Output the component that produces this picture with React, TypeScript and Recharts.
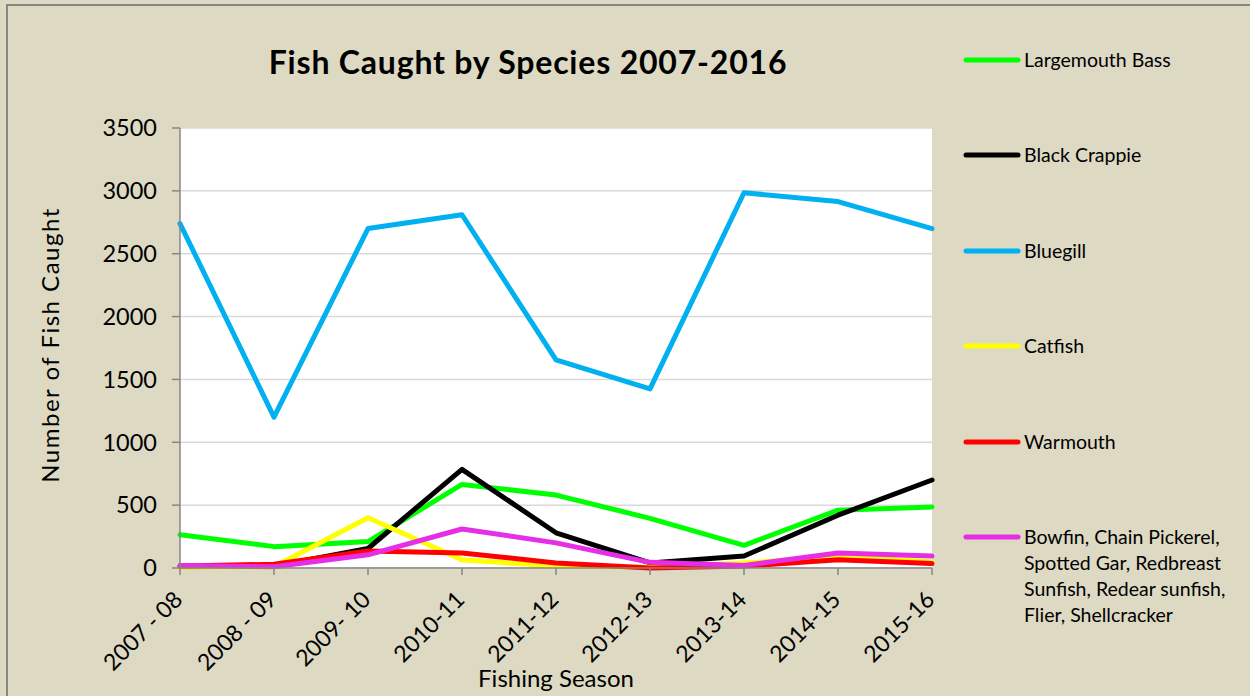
import React from 'react';
import { LineChart, Line, XAxis, YAxis, CartesianGrid, Label } from 'recharts';

const seasons = ['2007 - 08', '2008 - 09', '2009- 10', '2010-11', '2011-12', '2012-13', '2013-14', '2014-15', '2015-16'];

const largemouthBass = [265, 170, 210, 665, 580, 395, 180, 460, 485];
const blackCrappie = [10, 15, 155, 785, 280, 40, 95, 420, 700];
const bluegill = [2740, 1200, 2700, 2810, 1655, 1425, 2985, 2915, 2700];
const catfish = [5, 10, 400, 65, 15, 5, 40, 90, 50];
const warmouth = [15, 30, 135, 120, 40, 0, 15, 65, 35];
const otherSpecies = [20, 10, 105, 310, 200, 45, 20, 120, 95];

const yTicks = [0, 500, 1000, 1500, 2000, 2500, 3000, 3500];

const series = [
  { key: 'bass', name: 'Largemouth Bass', color: '#00ff00', values: largemouthBass },
  { key: 'crappie', name: 'Black Crappie', color: '#000000', values: blackCrappie },
  { key: 'bluegill', name: 'Bluegill', color: '#00b0f0', values: bluegill },
  { key: 'catfish', name: 'Catfish', color: '#ffff00', values: catfish },
  { key: 'warmouth', name: 'Warmouth', color: '#ff0000', values: warmouth },
  {
    key: 'other',
    name: 'Bowfin, Chain Pickerel, Spotted Gar, Redbreast Sunfish, Redear sunfish, Flier, Shellcracker',
    color: '#e62ee6',
    values: otherSpecies,
  },
];

const data = seasons.map((season, i) => {
  const row: Record<string, string | number> = { season };
  series.forEach((s) => { row[s.key] = s.values[i]; });
  return row;
});

const FONT = 'Lato, "Open Sans", sans-serif';
const BG = '#ddd9c3';
const AXIS = '#868686';

const SeasonTick = (props: any) => {
  const { x, y, payload } = props;
  const ax = x + 4;
  const ay = y + 24;
  return (
    <text
      x={ax}
      y={ay}
      textAnchor="end"
      transform={`rotate(-45, ${ax}, ${ay})`}
      fontSize={23}
      fontFamily={FONT}
      fill="#000"
    >
      {payload.value}
    </text>
  );
};

// legend sits in the right-hand strip, one row per species
const SpeciesLegend = () => (
  <div
    style={{
      position: 'absolute',
      left: 963,
      top: 47,
      width: 285,
      fontFamily: FONT,
      fontSize: 19.5,
      color: '#000',
    }}
  >
    {series.map((s) => (
      <div key={s.key} style={{ display: 'flex', alignItems: 'flex-start', height: 95.4 }}>
        <svg width={61} height={26} style={{ flex: 'none' }}>
          <line x1={3} y1={13} x2={55} y2={13} stroke={s.color} strokeWidth={5} strokeLinecap="round" />
        </svg>
        <div style={{ width: 220, lineHeight: '26px' }}>{s.name}</div>
      </div>
    ))}
  </div>
);

const App: React.FC = () => {
  return (
    <div style={{ position: 'relative', width: 1250, height: 696, background: BG, overflow: 'hidden' }}>
      <style>{'body{margin:0}'}</style>
      {/* frame of the chart area */}
      <div
        style={{
          position: 'absolute',
          left: 6,
          top: 4,
          width: 1300,
          height: 800,
          borderLeft: `2px solid ${AXIS}`,
          borderTop: `2px solid ${AXIS}`,
        }}
      />
      <div
        style={{
          position: 'absolute',
          left: 0,
          width: 1056,
          top: 42,
          textAlign: 'center',
          fontFamily: FONT,
          fontWeight: 700,
          fontSize: 32,
          letterSpacing: 0.8,
          color: '#000',
        }}
      >
        Fish Caught by Species 2007-2016
      </div>
      <LineChart
        width={1250}
        height={696}
        data={data}
        margin={{ top: 128, right: 318, left: 100, bottom: 30 }}
        style={{ position: 'absolute', left: 0, top: 0 }}
      >
        <CartesianGrid fill="#ffffff" stroke="#d9d9d9" strokeWidth={1.5} vertical={false} />
        <XAxis
          dataKey="season"
          height={98}
          tick={<SeasonTick />}
          tickSize={7}
          axisLine={{ stroke: AXIS, strokeWidth: 1.5 }}
          tickLine={{ stroke: AXIS, strokeWidth: 1.5 }}
          interval={0}
        >
          <Label
            value="Fishing Season"
            position="bottom"
            offset={4}
            fontSize={24}
            fontFamily={FONT}
            fill="#000"
          />
        </XAxis>
        <YAxis
          width={80}
          domain={[0, 3500]}
          ticks={yTicks}
          interval={0}
          tickSize={8}
          tickMargin={15}
          tick={{ fontSize: 23.5, fontFamily: FONT, fill: '#000' }}
          axisLine={{ stroke: AXIS, strokeWidth: 1.5 }}
          tickLine={{ stroke: AXIS, strokeWidth: 1.5 }}
        >
          <Label
            value="Number of Fish Caught"
            angle={-90}
            position="center"
            dx={-90}
            dy={-3}
            fontSize={24}
            letterSpacing={1.5}
            fontFamily={FONT}
            fill="#000"
          />
        </YAxis>
        {series.map((s) => (
          <Line
            key={s.key}
            type="linear"
            dataKey={s.key}
            name={s.name}
            stroke={s.color}
            strokeWidth={5}
            strokeLinejoin="round"
            strokeLinecap="round"
            dot={false}
            activeDot={false}
            isAnimationActive={false}
          />
        ))}
      </LineChart>
      <SpeciesLegend />
    </div>
  );
};

export default App;
